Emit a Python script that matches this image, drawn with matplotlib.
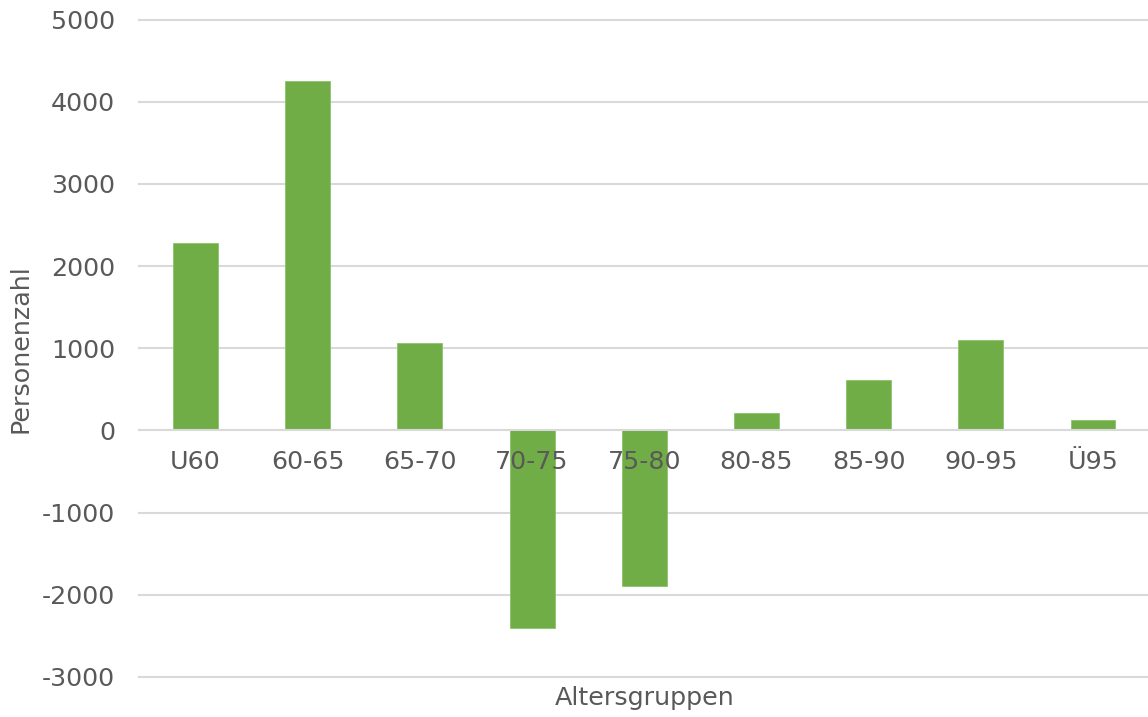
import matplotlib.pyplot as plt
import numpy as np

altersgruppen = ['U60', '60-65', '65-70', '70-75', '75-80', '80-85', '85-90', '90-95', 'Ü95']
personenzahl = [2280, 4255, 1060, -2405, -1890, 212, 617, 1105, 127]

gruen = '#70AD47'
textfarbe = '#595959'
gitter = '#D9D9D9'
schrift = 18.3

plt.rcParams['font.family'] = 'DejaVu Sans'
plt.rcParams['axes.unicode_minus'] = False

fig = plt.figure(figsize=(11.48, 7.17), dpi=100)
ax = fig.add_axes([0.1215, 0.0558, 0.8794, 0.917])

x = np.arange(len(altersgruppen))
ax.bar(x, personenzahl, width=0.4, color=gruen, edgecolor='#8cc46a', linewidth=0.6, zorder=1)

ax.set_xlim(-0.5, len(altersgruppen) - 0.5)
ax.set_ylim(-3000, 5000)
yticks = np.arange(-3000, 5001, 1000)
ax.set_yticks(yticks)
for yt in yticks:
    if yt != 0:
        ax.axhline(yt, color=gitter, linewidth=1.5, zorder=0, clip_on=False)

# Kategorieachse liegt auf der Nulllinie
ax.set_axisbelow(False)
for s in ['top', 'right', 'left']:
    ax.spines[s].set_visible(False)
ax.spines['bottom'].set_position(('data', 0))
ax.spines['bottom'].set_color(gitter)
ax.spines['bottom'].set_linewidth(1.5)

ax.set_xticks(x)
ax.set_xticklabels(altersgruppen)
ax.tick_params(axis='x', length=0, pad=14, labelsize=schrift, labelcolor=textfarbe)
ax.tick_params(axis='y', length=0, pad=17.5, labelsize=schrift, labelcolor=textfarbe)

fig.text(0.018, 0.514, 'Personenzahl', fontsize=schrift, color=textfarbe,
         ha='center', va='center', rotation=90)
fig.text(0.5615, 0.027, 'Altersgruppen', fontsize=schrift, color=textfarbe,
         ha='center', va='center')

plt.savefig('out.png', dpi=100)
plt.close()
